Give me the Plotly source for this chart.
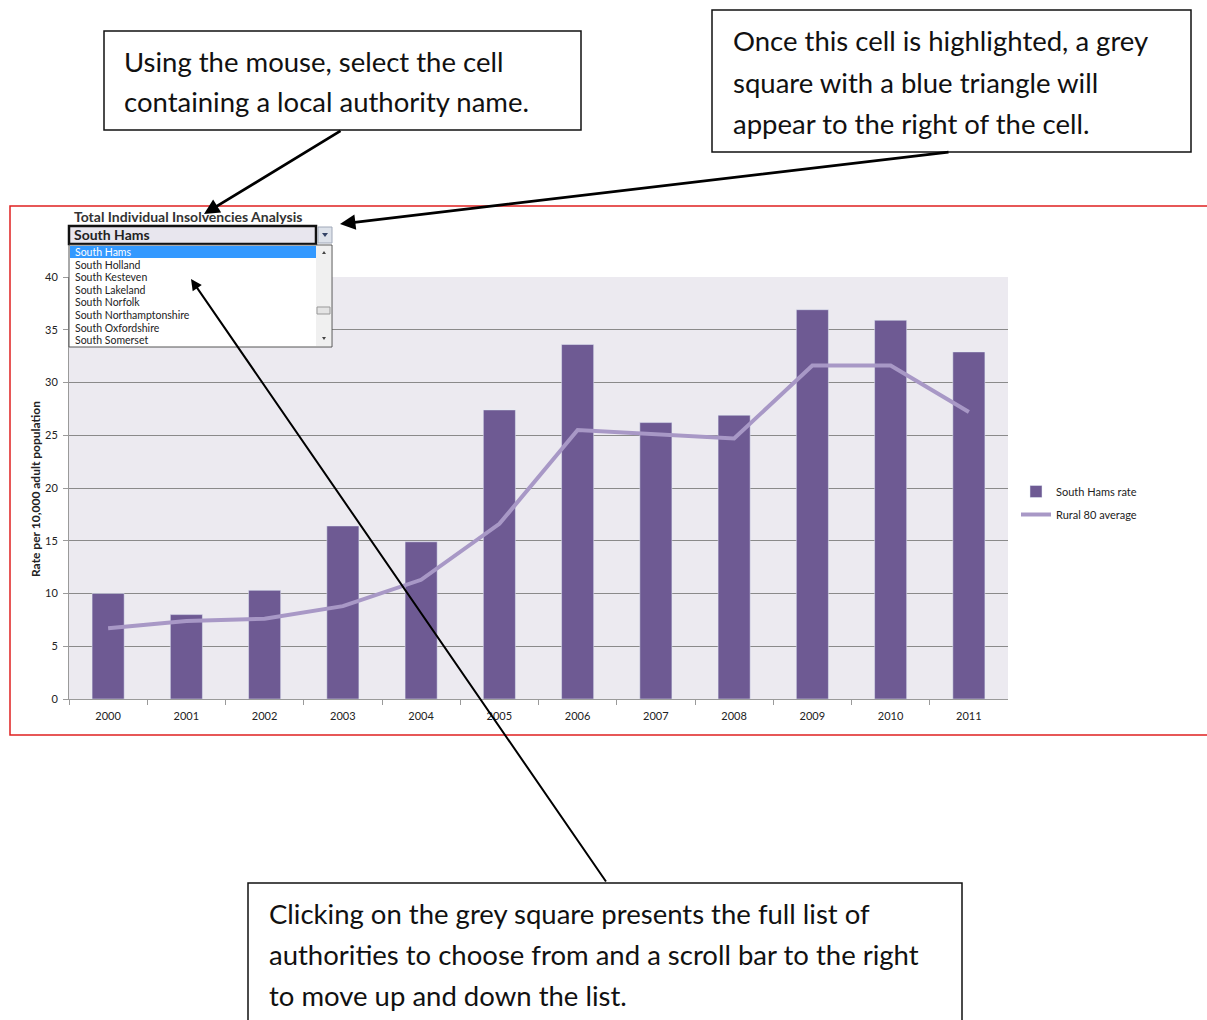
import plotly.graph_objects as go

years = ["2000", "2001", "2002", "2003", "2004", "2005", "2006", "2007", "2008", "2009", "2010", "2011"]
south_hams_rate = [10.0, 8.0, 10.3, 16.4, 14.9, 27.4, 33.6, 26.2, 26.9, 36.9, 35.9, 32.9]
rural80_average = [6.7, 7.4, 7.6, 8.8, 11.3, 16.6, 25.5, 25.1, 24.7, 31.6, 31.6, 27.2]
y_ticks = [0, 5, 10, 15, 20, 25, 30, 35, 40]
list_items = ["South Hams", "South Holland", "South Kesteven", "South Lakeland", "South Norfolk",
              "South Northamptonshire", "South Oxfordshire", "South Somerset"]
callout1 = ["Using the mouse, select the cell", "containing a local authority name."]
callout2 = ["Once this cell is highlighted, a grey", "square with a blue triangle will",
            "appear to the right of the cell."]
callout3 = ["Clicking on the grey square presents the full list of",
            "authorities to choose from and a scroll bar to the right",
            "to move up and down the list."]

W, H = 1207, 1020
def X(px): return px / W
def Y(py): return 1 - py / H

BAR = "#6E5A93"
LINE = "#A898C6"
FONT = "Lato"

fig = go.Figure()
fig.add_trace(go.Bar(x=years, y=south_hams_rate, name="South Hams rate", marker_color=BAR,
                     width=0.41, legendgroup="a"))
fig.add_trace(go.Scatter(x=years, y=rural80_average, name="Rural 80 average", mode="lines",
                         line=dict(color=LINE, width=4), legendgroup="b"))

shapes = []
annos = []

# red frame
shapes.append(dict(type="rect", xref="paper", yref="paper", x0=X(10), x1=X(1212), y0=Y(206), y1=Y(735),
                   line=dict(color="#E02020", width=1.5), layer="below"))

# callout boxes
def box(x0, y0, x1, y1):
    shapes.append(dict(type="rect", xref="paper", yref="paper", x0=X(x0), x1=X(x1), y0=Y(y0), y1=Y(y1),
                       line=dict(color="#111111", width=1.5), fillcolor="white", layer="above"))
box(104, 31, 581, 130)
box(712, 10, 1191, 152)
box(248, 883, 962, 1030)

def lines(textlist, x, y0, dy):
    for i, t in enumerate(textlist):
        annos.append(dict(text=t, xref="paper", yref="paper", x=X(x), y=Y(y0 + i * dy),
                          xanchor="left", yanchor="middle", showarrow=False,
                          font=dict(family=FONT, size=27.5, color="#111111")))
lines(callout1, 122, 61, 41)
lines(callout2, 731, 41, 41)
lines(callout3, 267, 913, 41)

# dropdown title
annos.append(dict(text="<b>Total Individual Insolvencies Analysis</b>", xref="paper", yref="paper",
                  x=X(72), y=Y(216), xanchor="left", yanchor="middle", showarrow=False,
                  font=dict(family=FONT, size=14, color="#333333")))
# dropdown cell
shapes.append(dict(type="rect", xref="paper", yref="paper", x0=X(69), x1=X(316), y0=Y(226), y1=Y(244),
                   line=dict(color="#111111", width=2.5), fillcolor="#E8E6EE", layer="above"))
annos.append(dict(text="<b>South Hams</b>", xref="paper", yref="paper", x=X(72), y=Y(235),
                  xanchor="left", yanchor="middle", showarrow=False,
                  font=dict(family=FONT, size=14, color="#222222")))
# dropdown button
shapes.append(dict(type="rect", xref="paper", yref="paper", x0=X(318), x1=X(332), y0=Y(227), y1=Y(243),
                   line=dict(color="#A0A8B8", width=1), fillcolor="#DDE2EA", layer="above"))
shapes.append(dict(type="path", xref="paper", yref="paper",
                   path=f"M {X(322)} {Y(233)} L {X(328)} {Y(233)} L {X(325)} {Y(237)} Z",
                   fillcolor="#334466", line=dict(width=0), layer="above"))
# list box
shapes.append(dict(type="rect", xref="paper", yref="paper", x0=X(69), x1=X(332), y0=Y(245), y1=Y(347),
                   line=dict(color="#555555", width=1), fillcolor="white", layer="above"))
shapes.append(dict(type="rect", xref="paper", yref="paper", x0=X(70), x1=X(316), y0=Y(246), y1=Y(258),
                   line=dict(width=0), fillcolor="#3399FF", layer="above"))
# scrollbar
shapes.append(dict(type="rect", xref="paper", yref="paper", x0=X(316), x1=X(331), y0=Y(246), y1=Y(346),
                   line=dict(width=0), fillcolor="#F0F0F0", layer="above"))
shapes.append(dict(type="rect", xref="paper", yref="paper", x0=X(317), x1=X(330), y0=Y(307), y1=Y(314),
                   line=dict(color="#999999", width=1), fillcolor="#E4E4E4", layer="above"))
shapes.append(dict(type="path", xref="paper", yref="paper",
                   path=f"M {X(322)} {Y(254)} L {X(326)} {Y(254)} L {X(324)} {Y(251)} Z",
                   fillcolor="#444444", line=dict(width=0), layer="above"))
shapes.append(dict(type="path", xref="paper", yref="paper",
                   path=f"M {X(322)} {Y(337)} L {X(326)} {Y(337)} L {X(324)} {Y(340)} Z",
                   fillcolor="#444444", line=dict(width=0), layer="above"))
for i, t in enumerate(list_items):
    annos.append(dict(text=t, xref="paper", yref="paper", x=X(73), y=Y(252 + i * 12.6),
                      xanchor="left", yanchor="middle", showarrow=False,
                      font=dict(family=FONT, size=10.5, color="white" if i == 0 else "#222222")))

# y-axis title
annos.append(dict(text="<b>Rate per 10,000 adult population</b>", xref="paper", yref="paper",
                  x=X(35), y=Y(489), textangle=-90, showarrow=False, xanchor="center", yanchor="middle",
                  font=dict(family=FONT, size=12, color="#222222")))

# arrows
def arrow(tx, ty, hx, hy, w):
    annos.append(dict(text="", xref="paper", yref="paper", x=X(hx), y=Y(hy), ax=tx - hx, ay=ty - hy,
                      axref="pixel", ayref="pixel", showarrow=True, arrowhead=2, arrowsize=1.1,
                      arrowwidth=w, arrowcolor="#000000", standoff=0, startstandoff=0))
arrow(342, 130, 204, 214, 2.8)
arrow(950, 152, 340, 224, 2.8)
arrow(607, 883, 191, 279, 2)

fig.update_layout(
    width=W, height=H, margin=dict(l=0, r=0, t=0, b=0, autoexpand=False),
    paper_bgcolor="white", plot_bgcolor="#ECEAF0",
    font=dict(family=FONT, color="#222222"),
    shapes=shapes, annotations=annos,
    showlegend=True,
    legend=dict(x=X(1016), y=Y(477), xanchor="left", yanchor="top", font=dict(size=11, family=FONT),
                bgcolor="rgba(0,0,0,0)", tracegroupgap=4, itemwidth=30),
    bargap=0.59,
    xaxis=dict(domain=[X(69), X(1008)], showgrid=False, showline=True, linecolor="#9a9a9a",
               ticks="outside", tickson="boundaries", ticklen=5, tickcolor="#9a9a9a",
               ticklabelstandoff=7, automargin=False,
               tickfont=dict(size=11, family=FONT, color="#222222")),
    yaxis=dict(domain=[Y(699), Y(277)], range=[0, 40], tickvals=y_ticks, showgrid=True,
               gridcolor="#8a8a8a", gridwidth=1, showline=True, linecolor="#9a9a9a", ticks="outside",
               ticklen=5, tickcolor="#9a9a9a", zeroline=False, ticklabelstandoff=3, automargin=False,
               tickfont=dict(size=11, family=FONT, color="#222222")),
)
fig.write_html("out.html", config={"displayModeBar": False},
               post_script="document.body.style.margin='0';document.body.style.overflow='hidden';")
